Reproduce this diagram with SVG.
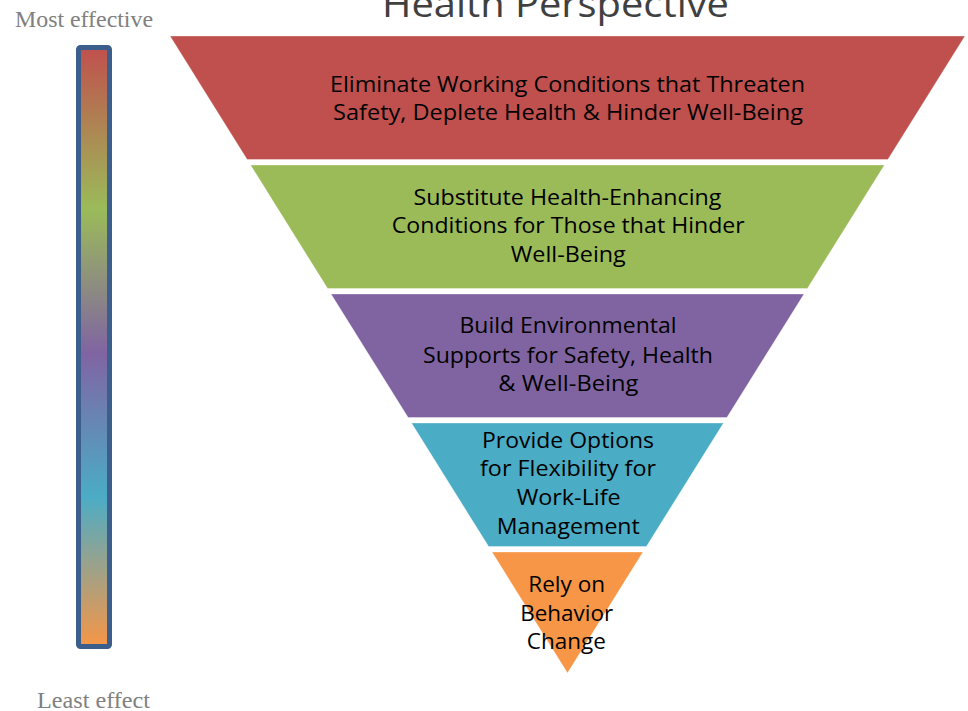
<svg xmlns="http://www.w3.org/2000/svg" width="968" height="711" viewBox="0 0 968 711">
<defs>
<linearGradient id="scale" x1="0" y1="0" x2="0" y2="1">
<stop offset="0" stop-color="#C0504D"/>
<stop offset="0.27" stop-color="#9BBB59"/>
<stop offset="0.51" stop-color="#8064A2"/>
<stop offset="0.75" stop-color="#4BACC6"/>
<stop offset="1" stop-color="#F79646"/>
</linearGradient>
<style>
.lbl{font-family:"Open Sans","Noto Sans","Liberation Sans",sans-serif;font-size:22px;fill:#000;text-anchor:middle}
.side{font-family:"Liberation Serif","Times New Roman",serif;font-size:24px;fill:#808080}
.title{font-family:"Open Sans","Noto Sans","Liberation Sans",sans-serif;font-size:36px;fill:#404040;text-anchor:middle}
.band{stroke:#ffffff;stroke-opacity:0.35;stroke-width:1}
</style>
</defs>
<rect width="968" height="711" fill="#ffffff"/>
<text class="title" x="555.5" y="17" textLength="347" lengthAdjust="spacingAndGlyphs">Health Perspective</text>
<g id="scale-bar">
<rect x="78.5" y="47.5" width="31" height="599" rx="2" fill="url(#scale)" stroke="#3B5E8C" stroke-width="5"/>
<text class="side" x="15" y="27" textLength="138" lengthAdjust="spacingAndGlyphs">Most effective</text>
<text class="side" x="37" y="708" textLength="113" lengthAdjust="spacingAndGlyphs">Least effect</text>
</g>
<g id="connectors"></g>
<g id="level1">
<polygon class="band" points="170,36 965,36 887.9,159.5 247.1,159.5" fill="#C0504D"/>
<text class="lbl" x="567.5" y="91.7" textLength="475" lengthAdjust="spacingAndGlyphs">Eliminate Working Conditions that Threaten</text>
<text class="lbl" x="568" y="120" textLength="470" lengthAdjust="spacingAndGlyphs">Safety, Deplete Health &amp; Hinder Well-Being</text>
</g>
<g id="level2">
<polygon class="band" points="250.5,165 884.5,165 807.4,288.5 327.6,288.5" fill="#9BBB59"/>
<text class="lbl" x="567.5" y="205" textLength="308" lengthAdjust="spacingAndGlyphs">Substitute Health-Enhancing</text>
<text class="lbl" x="568.3" y="233.3" textLength="353" lengthAdjust="spacingAndGlyphs">Conditions for Those that Hinder</text>
<text class="lbl" x="568.3" y="261.7" textLength="115" lengthAdjust="spacingAndGlyphs">Well-Being</text>
</g>
<g id="level3">
<polygon class="band" points="331,294 804,294 726.9,417.5 408.1,417.5" fill="#8064A2"/>
<text class="lbl" x="568" y="333.3" textLength="217" lengthAdjust="spacingAndGlyphs">Build Environmental</text>
<text class="lbl" x="568" y="362.7" textLength="290" lengthAdjust="spacingAndGlyphs">Supports for Safety, Health</text>
<text class="lbl" x="568.3" y="390.7" textLength="140" lengthAdjust="spacingAndGlyphs">&amp; Well-Being</text>
</g>
<g id="level4">
<polygon class="band" points="411.5,423 723.5,423 646.4,546.5 488.6,546.5" fill="#4BACC6"/>
<text class="lbl" x="568" y="447.7" textLength="172" lengthAdjust="spacingAndGlyphs">Provide Options</text>
<text class="lbl" x="568" y="476" textLength="176" lengthAdjust="spacingAndGlyphs">for Flexibility for</text>
<text class="lbl" x="568.7" y="505" textLength="104" lengthAdjust="spacingAndGlyphs">Work-Life</text>
<text class="lbl" x="568.3" y="534" textLength="143" lengthAdjust="spacingAndGlyphs">Management</text>
</g>
<g id="level5">
<polygon class="band" points="492,552 643,552 567.5,673" fill="#F79646"/>
<text class="lbl" x="566.7" y="591.7" textLength="77" lengthAdjust="spacingAndGlyphs">Rely on</text>
<text class="lbl" x="566.7" y="620.7" textLength="93" lengthAdjust="spacingAndGlyphs">Behavior</text>
<text class="lbl" x="566.3" y="649.3" textLength="79" lengthAdjust="spacingAndGlyphs">Change</text>
</g>
</svg>
